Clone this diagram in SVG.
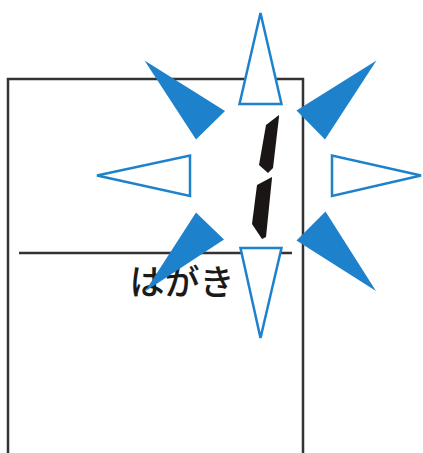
<svg xmlns="http://www.w3.org/2000/svg" width="423" height="453" viewBox="0 0 423 453">
<style>
.page{fill:none;stroke:#333;stroke-width:2.5}
.ray-o{fill:#fff;stroke:#1d82cb;stroke-width:2.5;stroke-linejoin:miter}
.ray-f{fill:#1d82cb}
.seg{fill:#1a1616}
.lbl{font-family:"Noto Sans CJK JP","Noto Sans CJK SC",sans-serif;font-size:35px;font-weight:500;fill:#1a1a1a}
</style>
<rect width="423" height="453" fill="#fff"/>
<g id="page">
<polyline class="page" points="8,460 8,79 303,79 303,460"/>
<line class="page" x1="19" y1="253" x2="292" y2="253"/>
</g>
<g id="label"><text class="lbl" x="182" y="295" text-anchor="middle">はがき</text></g>
<g id="digit">
<polygon class="seg" points="279,115 266,125 259,165 268,173 273,168 279,117"/>
<polygon class="seg" points="272,177 257,185 252,224 262,239 266,237 272,178"/>
</g>
<g id="rays">
<polygon class="ray-o" points="260.5,13 239.5,104 281.5,104"/>
<polygon class="ray-o" points="260.5,338 240.5,248 281.5,248"/>
<polygon class="ray-o" points="97,175.5 190,155.5 190,196"/>
<polygon class="ray-o" points="421,175.5 332,155.5 332,196"/>
<polygon class="ray-f" points="144.5,60.5 225,111 196,139.5"/>
<polygon class="ray-f" points="376.5,60.5 296.5,110.5 325,139.5"/>
<polygon class="ray-f" points="145,291.5 196,212.5 224,239.5"/>
<polygon class="ray-f" points="376,291 325.5,211.5 296.5,240.5"/>
</g>
</svg>
